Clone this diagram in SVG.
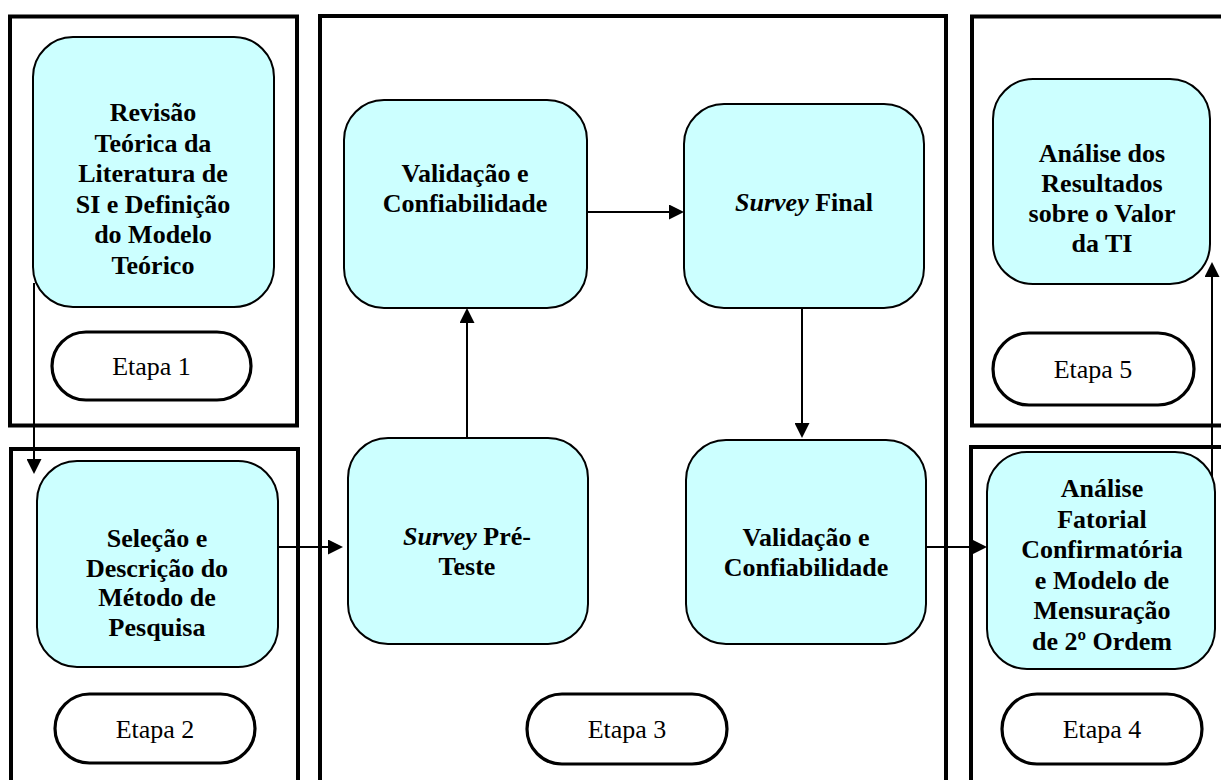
<svg xmlns="http://www.w3.org/2000/svg" width="1221" height="780" viewBox="0 0 1221 780">
  <style>
    .frame { fill: none; stroke: #000; stroke-width: 4; }
    .node { fill: #CCFFFF; stroke: #000; stroke-width: 2; }
    .pill { fill: #fff; stroke: #000; stroke-width: 3.2; }
    .t { font-family: "Liberation Serif", "Times New Roman", serif; font-size: 26px; font-weight: bold; fill: #000; text-anchor: middle; }
    .lbl { font-family: "Liberation Serif", "Times New Roman", serif; font-size: 26px; fill: #000; text-anchor: middle; }
    .it { font-style: italic; }
    .conn { fill: none; stroke: #000; stroke-width: 2; }
  </style>
  <defs>
    <marker id="arrow" viewBox="0 0 15 15" refX="12" refY="7.5" markerWidth="15" markerHeight="15" markerUnits="userSpaceOnUse" orient="auto">
      <path d="M0,0 L15,7.5 L0,15 z" fill="#000"/>
    </marker>
  </defs>
  <rect width="1221" height="780" fill="#fff"/>

  <!-- stage frames -->
  <g id="frames">
    <rect class="frame" x="10" y="16.5" width="287" height="409"/>
    <rect class="frame" x="11" y="449" width="287" height="345"/>
    <rect class="frame" x="320" y="16" width="626" height="778"/>
    <rect class="frame" x="972" y="16.5" width="270" height="409"/>
    <rect class="frame" x="971" y="447" width="270" height="347"/>
  </g>

  <!-- Etapa 1 -->
  <g id="n-revisao">
    <rect class="node" x="33" y="37" width="241" height="270" rx="40"/>
    <text class="t" x="153" y="121">Revisão</text>
    <text class="t" x="153" y="151.5">Teórica da</text>
    <text class="t" x="153" y="182">Literatura de</text>
    <text class="t" x="153" y="212.5">SI e Definição</text>
    <text class="t" x="153" y="243">do Modelo</text>
    <text class="t" x="153" y="273.5">Teórico</text>
  </g>
  <g id="etapa1">
    <rect class="pill" x="52" y="332" width="199" height="68" rx="34"/>
    <text class="lbl" x="151.5" y="375">Etapa 1</text>
  </g>

  <!-- Etapa 2 -->
  <g id="n-selecao">
    <rect class="node" x="37" y="461" width="241" height="206" rx="40"/>
    <text class="t" x="157" y="547">Seleção e</text>
    <text class="t" x="157" y="576.5">Descrição do</text>
    <text class="t" x="157" y="606">Método de</text>
    <text class="t" x="157" y="635.5">Pesquisa</text>
  </g>
  <g id="etapa2">
    <rect class="pill" x="55" y="694" width="200" height="69" rx="34.5"/>
    <text class="lbl" x="155" y="738">Etapa 2</text>
  </g>

  <!-- Etapa 3 -->
  <g id="n-validacao1">
    <rect class="node" x="344" y="100" width="243" height="208" rx="40"/>
    <text class="t" x="465" y="182">Validação e</text>
    <text class="t" x="465" y="212">Confiabilidade</text>
  </g>
  <g id="n-survey-final">
    <rect class="node" x="684" y="104" width="240" height="204" rx="40"/>
    <text class="t" x="804" y="211"><tspan class="it">Survey</tspan> Final</text>
  </g>
  <g id="n-survey-pre">
    <rect class="node" x="348" y="438" width="240" height="206" rx="40"/>
    <text class="t" x="467" y="545"><tspan class="it">Survey</tspan> Pré-</text>
    <text class="t" x="467" y="575">Teste</text>
  </g>
  <g id="n-validacao2">
    <rect class="node" x="686" y="440" width="240" height="204" rx="40"/>
    <text class="t" x="806" y="546">Validação e</text>
    <text class="t" x="806" y="576">Confiabilidade</text>
  </g>
  <g id="etapa3">
    <rect class="pill" x="527" y="694" width="200" height="70" rx="35"/>
    <text class="lbl" x="627" y="738">Etapa 3</text>
  </g>

  <!-- Etapa 4 -->
  <g id="n-fatorial">
    <rect class="node" x="987" y="452" width="228" height="217" rx="40"/>
    <text class="t" x="1102" y="497">Análise</text>
    <text class="t" x="1102" y="527.5">Fatorial</text>
    <text class="t" x="1102" y="558">Confirmatória</text>
    <text class="t" x="1102" y="588.5">e Modelo de</text>
    <text class="t" x="1102" y="619">Mensuração</text>
    <text class="t" x="1102" y="649.5">de 2º Ordem</text>
  </g>
  <g id="etapa4">
    <rect class="pill" x="1002" y="694" width="200" height="70" rx="35"/>
    <text class="lbl" x="1102" y="738">Etapa 4</text>
  </g>

  <!-- Etapa 5 -->
  <g id="n-resultados">
    <rect class="node" x="993" y="79" width="217" height="205" rx="40"/>
    <text class="t" x="1102" y="162">Análise dos</text>
    <text class="t" x="1102" y="191.5">Resultados</text>
    <text class="t" x="1102" y="221.5">sobre o Valor</text>
    <text class="t" x="1102" y="252">da TI</text>
  </g>
  <g id="etapa5">
    <rect class="pill" x="993" y="333" width="201" height="72" rx="36"/>
    <text class="lbl" x="1093" y="378">Etapa 5</text>
  </g>

  <!-- connectors -->
  <g id="connectors">
    <path class="conn" d="M34,283 V471" marker-end="url(#arrow)"/>
    <path class="conn" d="M278,547 H340" marker-end="url(#arrow)"/>
    <path class="conn" d="M467,438 V311" marker-end="url(#arrow)"/>
    <path class="conn" d="M587,212 H681" marker-end="url(#arrow)"/>
    <path class="conn" d="M802,308 V435" marker-end="url(#arrow)"/>
    <path class="conn" d="M926,547 H984" marker-end="url(#arrow)"/>
    <path class="conn" d="M1212,477 V265" marker-end="url(#arrow)"/>
  </g>
</svg>
